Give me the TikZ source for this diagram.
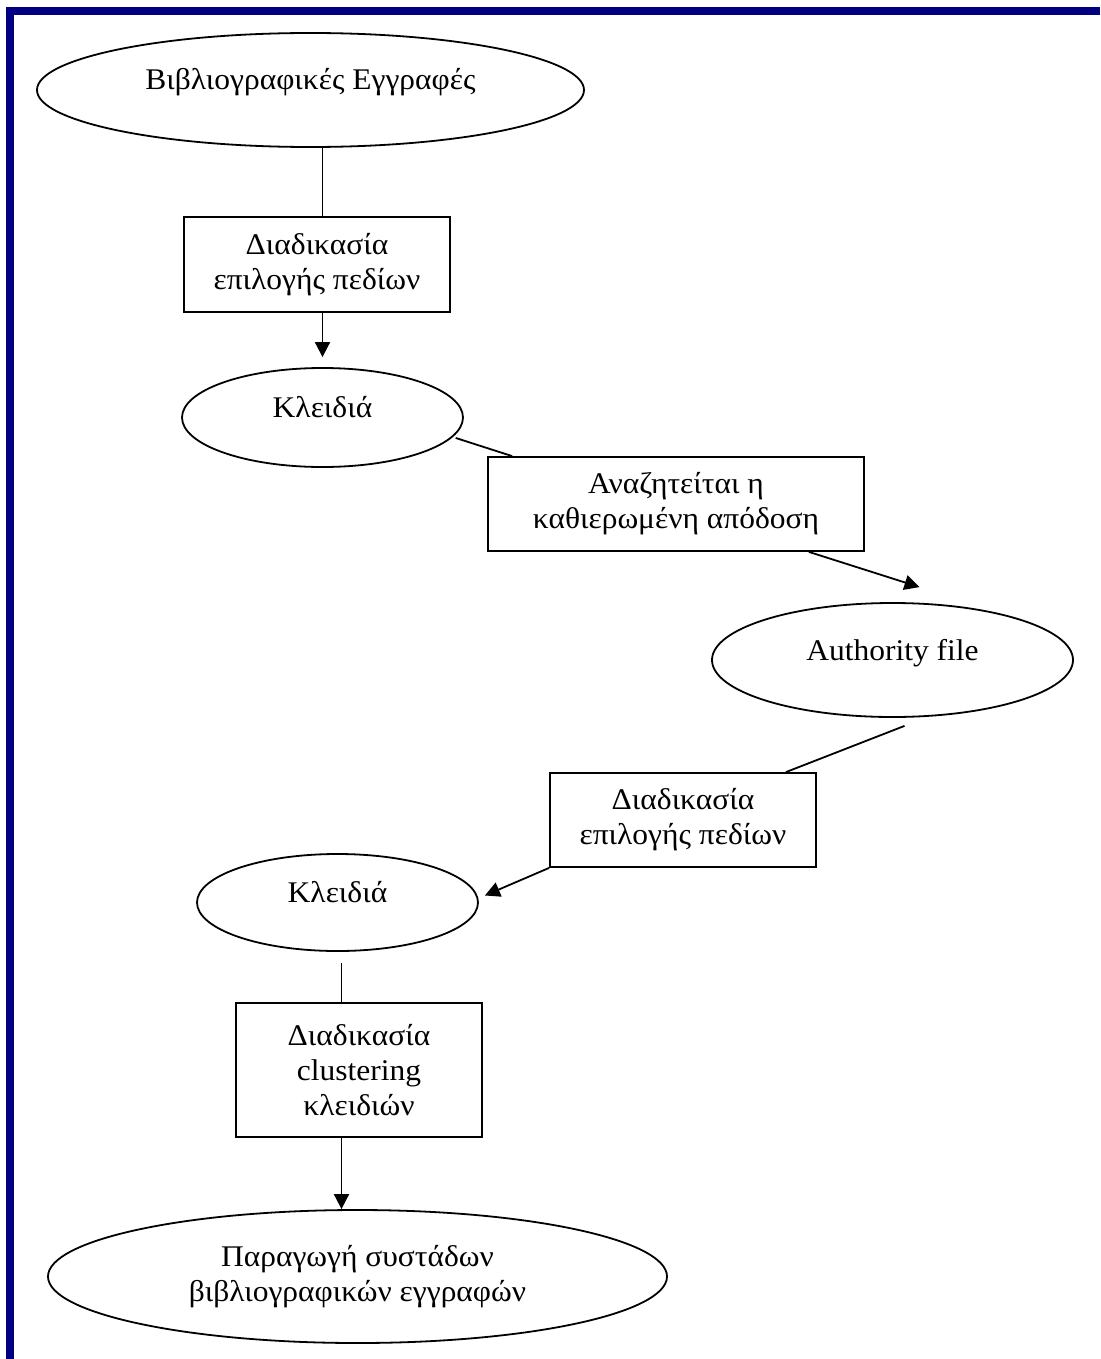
\documentclass[tikz,border=0pt]{standalone}
\usepackage{fontspec}
\setmainfont{Liberation Serif}[FakeStretch=1.05]
\usepackage{xcolor}
\definecolor{frame}{rgb}{0,0,0.5}
\usetikzlibrary{shapes.geometric}
\usetikzlibrary{arrows.meta}
\usetikzlibrary{calc}

\begin{document}
\begin{tikzpicture}[x=0.5pt, y=-0.5pt,
    every node/.style={font=\fontsize{15pt}{17.5pt}\selectfont, align=center},
    record/.style={draw, ellipse, line width=0.9pt, inner sep=0pt},
    single/.style={text height=8pt, text depth=8pt},
    process/.style={draw, rectangle, line width=0.9pt, inner sep=0pt},
    link/.style={line width=0.9pt},
    flow/.style={line width=0.9pt, -{Triangle[length=7.5pt, width=7.5pt]}}]

    \useasboundingbox (0,0) rectangle (1100,1359);
    \fill[color=frame] (6,7) rectangle (1100,15);
    \fill[color=frame] (6,7) rectangle (14,1359);

    \node[record, single, minimum width=273.5pt, minimum height=57pt] (records) at (310.5,90) {Βιβλιογραφικές Εγγραφές};
    \node[process, minimum width=133pt, minimum height=47.5pt] (select) at (317,264.5) {Διαδικασία\\επιλογής πεδίων};
    \node[record, single, minimum width=140.5pt, minimum height=49.5pt] (keys) at (322.5,417.5) {Κλειδιά};
    \node[process, minimum width=188pt, minimum height=47pt] (lookup) at (676,504) {Αναζητείται η\\καθιερωμένη απόδοση};
    \node[record, single, minimum width=180.5pt, minimum height=57pt] (authority) at (892.5,660) {Authority file};
    \node[process, minimum width=133pt, minimum height=47pt] (reselect) at (683,820) {Διαδικασία\\επιλογής πεδίων};
    \node[record, single, minimum width=140.5pt, minimum height=48.5pt] (rekeys) at (337.5,902.5) {Κλειδιά};
    \node[process, minimum width=123pt, minimum height=67pt] (cluster) at (359,1070) {Διαδικασία\\clustering\\κλειδιών};
    \node[record, minimum width=309.5pt, minimum height=66.5pt] (groups) at (357.5,1276.5) {Παραγωγή συστάδων\\βιβλιογραφικών εγγραφών};

    \draw[link] (keys |- records.south) -- (keys |- select.north);
    \draw[flow, shorten >=5pt] (keys |- select.south) -- (keys.north);
    \draw[link] ($(keys.-9)+(4,0)$) -- ($(lookup.north west)+(25,0)$);
    \draw[flow] ($(lookup.south east)+(-56,0)$) -- ($(authority.north)+(27,-15)$);
    \draw[link] ($(authority.south)+(12,8)$) -- ($(reselect.north east)+(-31,0)$);
    \draw[flow] (reselect.south west) -- ($(rekeys.east)+(6,-7)$);
    \draw[link] ($(rekeys.south)+(4,11)$) -- ($(rekeys.south |- cluster.north)+(4,0)$);
    \draw[flow] ($(rekeys.south |- cluster.south)+(4,0)$) -- ($(rekeys.south |- groups.north)+(4,0)$);

\end{tikzpicture}
\end{document}
